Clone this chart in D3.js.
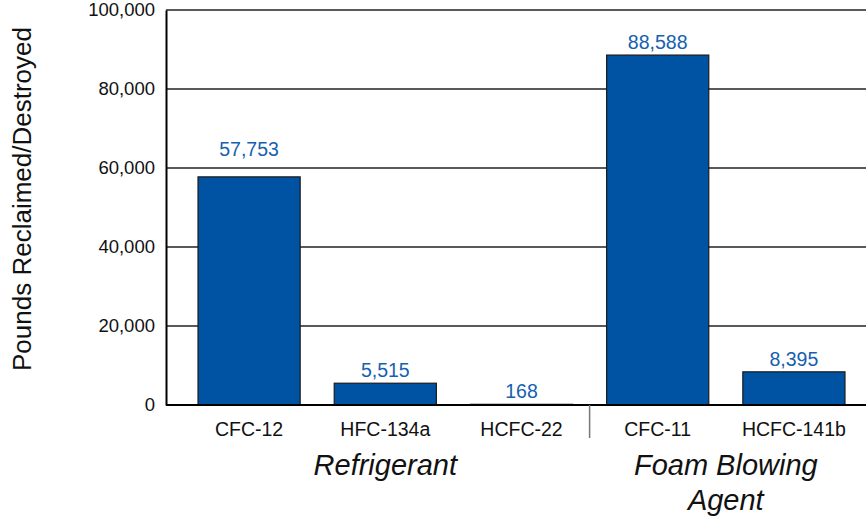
<!DOCTYPE html>
<html>
<head>
<meta charset="utf-8">
<style>
  body { margin: 0; background: #fff; }
  svg { font-family: "Liberation Sans", Arial, sans-serif; }
</style>
</head>
<body>
<div id="container"></div>
<script src="https://d3js.org/d3.v7.js"></script>
<script>
// chart data
const categories = ["CFC-12", "HFC-134a", "HCFC-22", "CFC-11", "HCFC-141b"];
const values = [57753, 5515, 168, 88588, 8395];
const groups = ["Refrigerant", "Foam Blowing Agent"];
const groupMembers = [["CFC-12", "HFC-134a", "HCFC-22"], ["CFC-11", "HCFC-141b"]];
const yTicks = [0, 20000, 40000, 60000, 80000, 100000];

const width = 866;
const height = 517;
const marginLeft = 166;
const marginTop = 10;
const plotBottom = 405;

const svg = d3.create("svg")
    .attr("width", width)
    .attr("height", height);

const x = d3.scaleBand()
    .domain(categories)
    .range([181, 862])
    .paddingInner(0.25)
    .paddingOuter(0.125);

const y = d3.scaleLinear()
    .domain([0, 100000])
    .range([plotBottom, marginTop]);

// gridlines
svg.append("g")
  .selectAll("line")
  .data(yTicks.filter(d => d > 0))
  .join("line")
    .attr("x1", marginLeft)
    .attr("x2", width)
    .attr("y1", d => y(d))
    .attr("y2", d => y(d))
    .attr("stroke", "#222")
    .attr("stroke-width", 1.3);

// y axis
svg.append("g")
    .attr("transform", `translate(${marginLeft},0)`)
    .call(d3.axisLeft(y).tickValues(yTicks).tickSize(0).tickPadding(11)
      .tickFormat(d3.format(",")))
    .call(g => g.select(".domain").attr("stroke", "#000").attr("stroke-width", 2))
    .call(g => g.selectAll("text")
      .attr("font-size", 18.5)
      .attr("fill", "#111")
      .attr("font-family", "'Liberation Sans', Arial, sans-serif"));

// bars
svg.append("g")
  .selectAll("rect")
  .data(categories)
  .join("rect")
    .attr("x", d => x(d))
    .attr("y", (d, i) => y(values[i]))
    .attr("width", x.bandwidth())
    .attr("height", (d, i) => y(0) - y(values[i]))
    .attr("fill", "#0052a3")
    .attr("stroke", "#1a1a1a")
    .attr("stroke-width", 1.2);

// value labels (the one near a gridline is lifted clear of it)
svg.append("g")
  .selectAll("text")
  .data(categories)
  .join("text")
    .attr("x", d => x(d) + x.bandwidth() / 2)
    .attr("y", (d, i) => {
      const ly = y(values[i]) - 6;
      return i === 0 ? ly - 15 : ly;
    })
    .attr("text-anchor", "middle")
    .attr("font-size", 19.5)
    .attr("fill", "#1560b0")
    .text((d, i) => d3.format(",")(values[i]));

// x axis baseline
svg.append("line")
    .attr("x1", marginLeft)
    .attr("x2", width)
    .attr("y1", y(0))
    .attr("y2", y(0))
    .attr("stroke", "#000")
    .attr("stroke-width", 2);

// category labels
svg.append("g")
  .selectAll("text")
  .data(categories)
  .join("text")
    .attr("x", d => x(d) + x.bandwidth() / 2)
    .attr("y", 436)
    .attr("text-anchor", "middle")
    .attr("font-size", 19.5)
    .attr("fill", "#111")
    .text(d => d);

// group separator
const sepX = (x(groupMembers[0][2]) + x.bandwidth() + x(groupMembers[1][0])) / 2;
svg.append("line")
    .attr("x1", sepX)
    .attr("x2", sepX)
    .attr("y1", y(0))
    .attr("y2", 438)
    .attr("stroke", "#777")
    .attr("stroke-width", 1.5);

// group labels
groups.forEach((g, gi) => {
  const mem = groupMembers[gi];
  const cx = (x(mem[0]) + x(mem[mem.length - 1]) + x.bandwidth()) / 2;
  const lines = gi === 0 ? [g] : ["Foam Blowing", "Agent"];
  const t = svg.append("text")
      .attr("text-anchor", "middle")
      .attr("font-size", 29)
      .attr("font-style", "italic")
      .attr("fill", "#111");
  lines.forEach((l, li) => {
    t.append("tspan")
        .attr("x", cx)
        .attr("y", 475 + li * 35)
        .text(l);
  });
});

// y axis title
svg.append("text")
    .attr("transform", `translate(31,199) rotate(-90)`)
    .attr("text-anchor", "middle")
    .attr("font-size", 26)
    .attr("fill", "#111")
    .attr("font-family", "'Liberation Sans', Arial, sans-serif")
    .text("Pounds Reclaimed/Destroyed");

container.append(svg.node());
</script>
</body>
</html>
